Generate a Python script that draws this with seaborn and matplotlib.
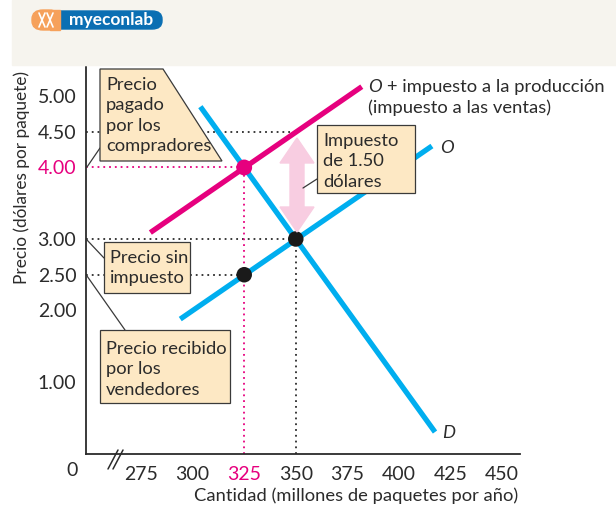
import matplotlib
matplotlib.use("Agg")
import matplotlib.pyplot as plt
import matplotlib.patches as mpatches
from matplotlib.lines import Line2D
import pandas as pd
import seaborn as sns

# curve end points (quantity, price)
demand_q = [303.75, 417.5]
demand_p = [4.85, 0.30]
supply_q = [294.0, 416.0]
supply_p = [1.88, 4.30]
tax_q = [279.5, 382.0]
tax_p = [3.09, 5.13]

# marked points
black_q = [350, 325]
black_p = [3.0, 2.5]
buyer_q = [325]
buyer_p = [4.0]

x_ticks = [275, 300, 325, 350, 375, 400, 425, 450]
y_ticks = [1.0, 2.0, 2.5, 3.0, 4.0, 4.5, 5.0]
y_labels = ["1.00", "2.00", "2.50", "3.00", "4.00", "4.50", "5.00"]

BLUE = "#00aeef"
PINK = "#e6007e"
BOX = "#fde8c4"
TXT = "#2b2b2b"
FS = 13.2

W, H = 616, 508


def fx(px):
    return px / W


def fy(py):
    return 1 - py / H


if __name__ == "__main__":
    sns.set_style("white")
    plt.rcParams["font.family"] = ["Lato", "DejaVu Sans"]

    fig = plt.figure(figsize=(W / 100, H / 100), dpi=100)

    # header strip + logo
    fig.patches.append(mpatches.Rectangle((fx(12), fy(65)), fx(604), 65 / H,
                                          transform=fig.transFigure, color="#f6f4ee", zorder=0))
    fig.patches.append(mpatches.FancyBboxPatch((fx(34), fy(29)), fx(128), 18 / H,
                                               boxstyle="round,pad=0,rounding_size=0.016",
                                               transform=fig.transFigure, color="#0b6fb3", zorder=1))
    fig.patches.append(mpatches.FancyBboxPatch((fx(32), fy(30)), fx(28), 20 / H,
                                               boxstyle="round,pad=0,rounding_size=0.018",
                                               transform=fig.transFigure, color="#f6a15b", zorder=2))
    fig.patches.append(mpatches.Rectangle((fx(50), fy(30)), fx(10), 20 / H,
                                          transform=fig.transFigure, color="#f6a15b", zorder=2))
    for a, b in [((39, 13), (45, 27)), ((45, 13), (39, 27)), ((47, 13), (53, 27)), ((53, 13), (47, 27))]:
        fig.lines.append(Line2D([fx(a[0]), fx(b[0])], [fy(a[1]), fy(b[1])], color="white", lw=1.2,
                                transform=fig.transFigure, zorder=3))
    fig.text(fx(111), fy(20), "myeconlab", color="white", fontsize=12.5, fontweight="bold",
             ha="center", va="center", zorder=3)

    ax = fig.add_axes([fx(86), 1 - 453.5 / H, fx(520 - 86), (453.5 - 67) / H])
    ax.set_xlim(248.3, 458.7)
    ax.set_ylim(0, 5.405)
    ax.patch.set_alpha(0)

    # dotted guide lines
    dot = dict(ls=(0, (1, 2.2)), lw=1.3, zorder=2)
    ax.plot([248.3, 350], [4.5, 4.5], color=TXT, **dot)
    ax.plot([248.3, 350], [3.0, 3.0], color=TXT, **dot)
    ax.plot([350, 350], [0, 3.0], color=TXT, **dot)
    ax.plot([248.3, 325], [2.5, 2.5], color=TXT, **dot)
    ax.plot([248.3, 325], [4.0, 4.0], color=PINK, **dot)
    ax.plot([325, 325], [0, 4.0], color=PINK, **dot)

    curves = pd.DataFrame({
        "q": demand_q + supply_q + tax_q,
        "p": demand_p + supply_p + tax_p,
        "curve": ["D"] * 2 + ["O"] * 2 + ["O+T"] * 2,
    })
    sns.lineplot(data=curves, x="q", y="p", hue="curve", palette={"D": BLUE, "O": BLUE, "O+T": PINK},
                 lw=3.8, legend=False, ax=ax, zorder=4, estimator=None, sort=False)
    for ln in ax.lines[-3:]:
        ln.set_solid_capstyle("butt")

    sns.scatterplot(x=black_q, y=black_p, color="#1a1a1a", s=125, edgecolor="none", zorder=6, ax=ax)
    sns.scatterplot(x=buyer_q, y=buyer_p, color=PINK, s=130, edgecolor="none", zorder=6, ax=ax)

    # axes styling
    sns.despine(ax=ax)
    ax.set_xlabel("")
    ax.set_ylabel("")
    for s in ["left", "bottom"]:
        ax.spines[s].set_color(TXT)
        ax.spines[s].set_linewidth(1.3)
    ax.set_xticks(x_ticks)
    ax.set_xticklabels([str(v) for v in x_ticks])
    ax.set_yticks(y_ticks)
    ax.set_yticklabels(y_labels)
    ax.tick_params(direction="in", length=6, width=1.2, color=TXT, labelcolor=TXT, labelsize=14)
    ax.tick_params(axis="x", pad=9)
    ax.tick_params(axis="y", pad=7)
    ax.get_yticklabels()[4].set_color(PINK)
    ax.get_xticklabels()[2].set_color(PINK)
    for i in [2, 3, 4, 5]:
        ax.yaxis.get_major_ticks()[i].tick1line.set_visible(False)
    for i in [2, 3]:
        ax.xaxis.get_major_ticks()[i].tick1line.set_visible(False)
    ax.grid(False)
    fig.text(fx(72), fy(471), "0", fontsize=14, color=TXT, ha="center", va="center")

    # axis break
    for off in (0, 5):
        fig.lines.append(Line2D([fx(108 + off), fx(118 + off)], [fy(469), fy(450)], color=TXT, lw=1.1,
                                transform=fig.transFigure))

    fig.text(fx(22), fy(177), "Precio (dólares por paquete)", rotation=90, fontsize=12.4, color=TXT,
             ha="center", va="center")
    fig.text(fx(356), fy(496), "Cantidad (millones de paquetes por año)", fontsize=13.2, color=TXT,
             ha="center", va="center")

    # curve labels
    fig.text(fx(368), fy(87), "O", fontsize=FS, color=TXT, style="italic", va="center")
    fig.text(fx(387), fy(87), "+ impuesto a la producción", fontsize=FS, color=TXT, va="center")
    fig.text(fx(368), fy(108), "(impuesto a las ventas)", fontsize=FS, color=TXT, va="center")
    fig.text(fx(440), fy(148), "O", fontsize=FS, color=TXT, style="italic", va="center")
    fig.text(fx(442), fy(433), "D", fontsize=FS, color=TXT, style="italic", va="center")

    # tax arrow
    arrow = [(297, 138), (314, 163), (304, 163), (304, 207), (314, 207), (297, 232),
             (280, 207), (290, 207), (290, 163), (280, 163)]
    fig.patches.append(mpatches.Polygon([(fx(a), fy(b)) for a, b in arrow], closed=True,
                                        transform=fig.transFigure, color="#f8cde1", zorder=3))

    # callout boxes
    def box(pts, lines, tx, ty, leader):
        fig.patches.append(mpatches.Polygon([(fx(a), fy(b)) for a, b in pts], closed=True,
                                            transform=fig.transFigure, facecolor=BOX,
                                            edgecolor="#3a3a3a", lw=0.9, zorder=7))
        fig.lines.append(Line2D([fx(leader[0][0]), fx(leader[1][0])],
                                [fy(leader[0][1]), fy(leader[1][1])], color="#3a3a3a", lw=0.9,
                                transform=fig.transFigure, zorder=7))
        fig.text(fx(tx), fy(ty), lines, fontsize=FS, color=TXT, va="top", ha="left",
                 linespacing=1.33, zorder=8)

    box([(100, 69), (163, 69), (222, 161), (100, 161)], "Precio\npagado\npor los\ncompradores",
        106, 77, [(100, 148), (87, 167)])
    box([(104, 242), (190, 242), (190, 293), (104, 293)], "Precio sin\nimpuesto",
        110, 250, [(104, 258), (87, 240)])
    box([(100, 330), (230, 330), (230, 403), (100, 403)], "Precio recibido\npor los\nvendedores",
        106, 341, [(125, 330), (87, 276)])
    box([(317, 125), (415, 125), (415, 193), (317, 193)], "Impuesto\nde 1.50\ndólares",
        323, 133, [(317, 179), (303, 188)])

    fig.savefig("out.png", dpi=100)
